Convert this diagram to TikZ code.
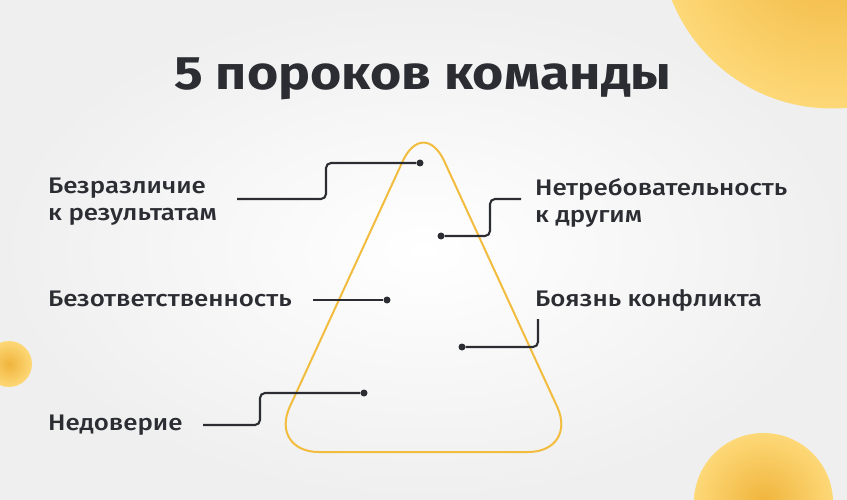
\documentclass[tikz,border=0pt]{standalone}
\usepackage{fontspec}
\setmainfont{Fira Sans}
\newfontfamily\labelfont{Fira Sans Medium}[FakeStretch=1.15]
\newfontfamily\headfont{Fira Sans Bold}[FakeStretch=1.14]
\usetikzlibrary{positioning}
\definecolor{ink}{HTML}{2B2D33}
\definecolor{bggray}{HTML}{EFEFF0}
\definecolor{triyellow}{HTML}{F2BC3F}
\definecolor{sundark}{HTML}{F0B43C}
\definecolor{sunlight}{HTML}{FDD877}
\tikzset{
  title/.style={font=\headfont\fontsize{47}{52}\selectfont, text=ink, inner sep=0pt, anchor=base},
  vice/.style={font=\labelfont\fontsize{22.5}{27}\selectfont, text=ink, inner sep=0pt, align=left},
  dot/.style={circle, fill=ink, inner sep=0pt, minimum size=7pt},
  lead/.style={draw=ink, line width=2.1pt, rounded corners=5pt},
  tri/.style={draw=triyellow, line width=2pt, rounded corners=50pt},
  sun/.style={inner color=sundark, outer color=sunlight}
}

\begin{document}
\begin{tikzpicture}[x=1pt, y=-1pt]
    \useasboundingbox (0,0) rectangle (847,500);
    \clip (0,0) rectangle (847,500);
    % background and round spots
    \shade [inner color=white, outer color=bggray] (0,0) rectangle (847,500);
    \shade [sun] (832,-64) circle (172.5);
    \shade [sun] (9,364) circle (23);
    \shade [sun] (763.5,502.5) circle (69.5);

    \node [title] (head) at (423,90) {5 пороков команды};

    % pyramid
    \coordinate (apex) at (423.5,116);
    \coordinate (baseR) at (578,452);
    \coordinate (baseL) at (269,452);
    \draw [tri] (apex) -- (baseR) -- (baseL) -- cycle;

    % vices
    \node [vice, anchor=north west] (indiff) at (48,178) {Безразличие\\к результатам};
    \node [vice, anchor=base west] (irresp) at (48,306) {Безответственность};
    \node [vice, anchor=base west] (distrust) at (48,430) {Недоверие};
    \node [vice, anchor=north west] (lowstd) at (535,178) {Нетребовательность\\к другим};
    \node [vice, anchor=base west] (fear) at (535,306) {Боязнь конфликта};

    % dots on the pyramid
    \node [dot] (dIndiff) at (420,163) {};
    \node [dot] (dLowstd) at (441,236) {};
    \node [dot] (dIrresp) at (387,300) {};
    \node [dot] (dFear) at (462,347) {};
    \node [dot] (dDistrust) at (364,393) {};

    % free ends of the leaders
    \coordinate (eIndiff) at (237,199);
    \coordinate (eLowstd) at (521,199);
    \coordinate (eIrresp) at (313,300);
    \coordinate (eFear) at (538,319);
    \coordinate (eDistrust) at (203,425);

    \draw [lead] (eIndiff) -- ++(89,0) |- (dIndiff);
    \draw [lead] (dLowstd) -- ++(49,0) |- (eLowstd);
    \draw [lead] (eIrresp) -- (dIrresp);
    \draw [lead] (dFear) -| (eFear);
    \draw [lead] (dDistrust) -- ++(-104,0) |- (eDistrust);
\end{tikzpicture}
\end{document}
